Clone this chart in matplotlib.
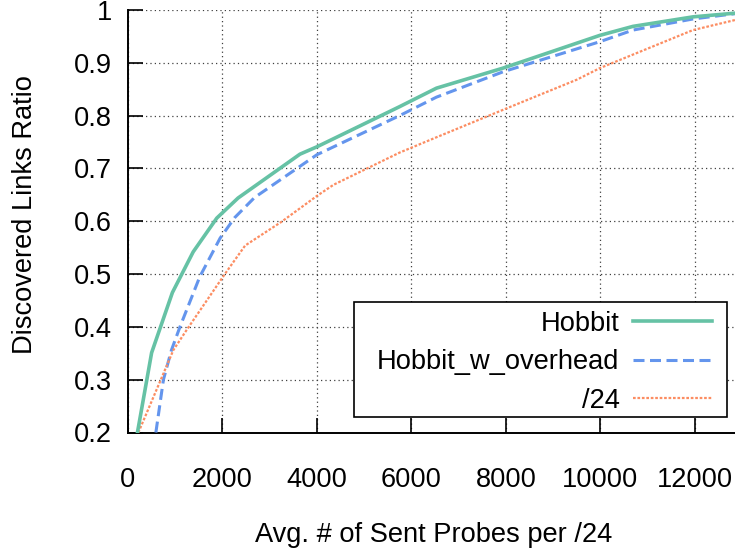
import matplotlib
matplotlib.use("Agg")
import matplotlib.pyplot as plt
from matplotlib.patches import Rectangle
from matplotlib.ticker import FormatStrFormatter

plt.rcParams['font.family'] = ['Liberation Sans', 'DejaVu Sans']

# discovered-links ratio vs. average probes sent per /24
hobbit_x = [200, 500, 940, 1380, 1880, 2330, 3640, 4000, 5750, 6530, 7940, 9990, 10690, 11960, 12850]
hobbit_y = [0.20, 0.351, 0.465, 0.542, 0.606, 0.644, 0.727, 0.741, 0.817, 0.852, 0.890, 0.952, 0.969, 0.987, 0.994]

overhead_x = [590, 750, 920, 1100, 1520, 1950, 2260, 2680, 4000, 5750, 6530, 7940, 9990, 10690, 11960, 12850]
overhead_y = [0.20, 0.30, 0.356, 0.40, 0.495, 0.568, 0.607, 0.645, 0.726, 0.800, 0.835, 0.883, 0.940, 0.962, 0.983, 0.993]

slash24_x = [220, 960, 1240, 2050, 2480, 3250, 4000, 4350, 5750, 6530, 7940, 9500, 9990, 11960, 12850]
slash24_y = [0.20, 0.356, 0.394, 0.50, 0.554, 0.599, 0.648, 0.669, 0.730, 0.759, 0.811, 0.868, 0.890, 0.962, 0.981]

x_ticks = [0, 2000, 4000, 6000, 8000, 10000, 12000]
y_ticks = [0.2, 0.3, 0.4, 0.5, 0.6, 0.7, 0.8, 0.9, 1.0]

fs = 19.6
W, H = 735, 552

fig = plt.figure(figsize=(W / 100, H / 100), dpi=100)
ax = fig.add_axes([128 / W, 1 - 432.5 / H, 1 - 128 / W, 422.5 / H])


def px_to_axes(px, py):
    # figure pixel (from top-left) -> axes fraction
    return (px - 128) / (W - 128), (432.5 - py) / 422.5


ax.plot(hobbit_x, hobbit_y, color='#66c2a5', lw=2.6, label='Hobbit', zorder=4)
ax.plot(overhead_x, overhead_y, color='#6495ed', lw=2.2, linestyle=(0, (3.6, 1.8)),
        label='Hobbit_w_overhead', zorder=3)
ax.plot(slash24_x, slash24_y, color='#fc8d62', lw=1.6, linestyle=(0, (1.2, 0.8)),
        label='/24', zorder=3)

ax.set_xlim(0, 12850)
ax.set_ylim(0.2, 1.0)
ax.set_xticks(x_ticks)
ax.set_yticks(y_ticks)
ax.yaxis.set_major_formatter(FormatStrFormatter('%g'))

ax.grid(True, color='0.25', linestyle=(0, (1, 2.5)), linewidth=0.9)
ax.set_axisbelow(True)

for side in ('top', 'right'):
    ax.spines[side].set_visible(False)
for side in ('left', 'bottom'):
    ax.spines[side].set_linewidth(1.4)

ax.tick_params(axis='both', direction='in', length=11, width=1.2, labelsize=fs)
ax.tick_params(axis='x', pad=25)
ax.tick_params(axis='y', pad=11.5)

fig.text(434 / W, 1 - 535 / H, 'Avg. # of Sent Probes per /24', fontsize=fs,
         ha='center', va='center')
fig.text(25 / W, 1 - 215 / H, 'Discovered Links Ratio', fontsize=fs,
         ha='center', va='center', rotation=90)

# legend box drawn separately so its padding can be uneven
x0, y0 = px_to_axes(354, 417)
x1, y1 = px_to_axes(727, 302)
ax.add_patch(Rectangle((x0, y0), x1 - x0, y1 - y0, transform=ax.transAxes,
                       facecolor='white', edgecolor='black', lw=1.2, zorder=5))

leg = ax.legend(loc='lower right', bbox_to_anchor=px_to_axes(712, 414), borderaxespad=0,
                borderpad=0, fontsize=fs, markerfirst=False, handlelength=2.9,
                handletextpad=0.5, labelspacing=0.46, frameon=False)
leg.set_zorder(6)

fig.savefig('out.png', dpi=100)
